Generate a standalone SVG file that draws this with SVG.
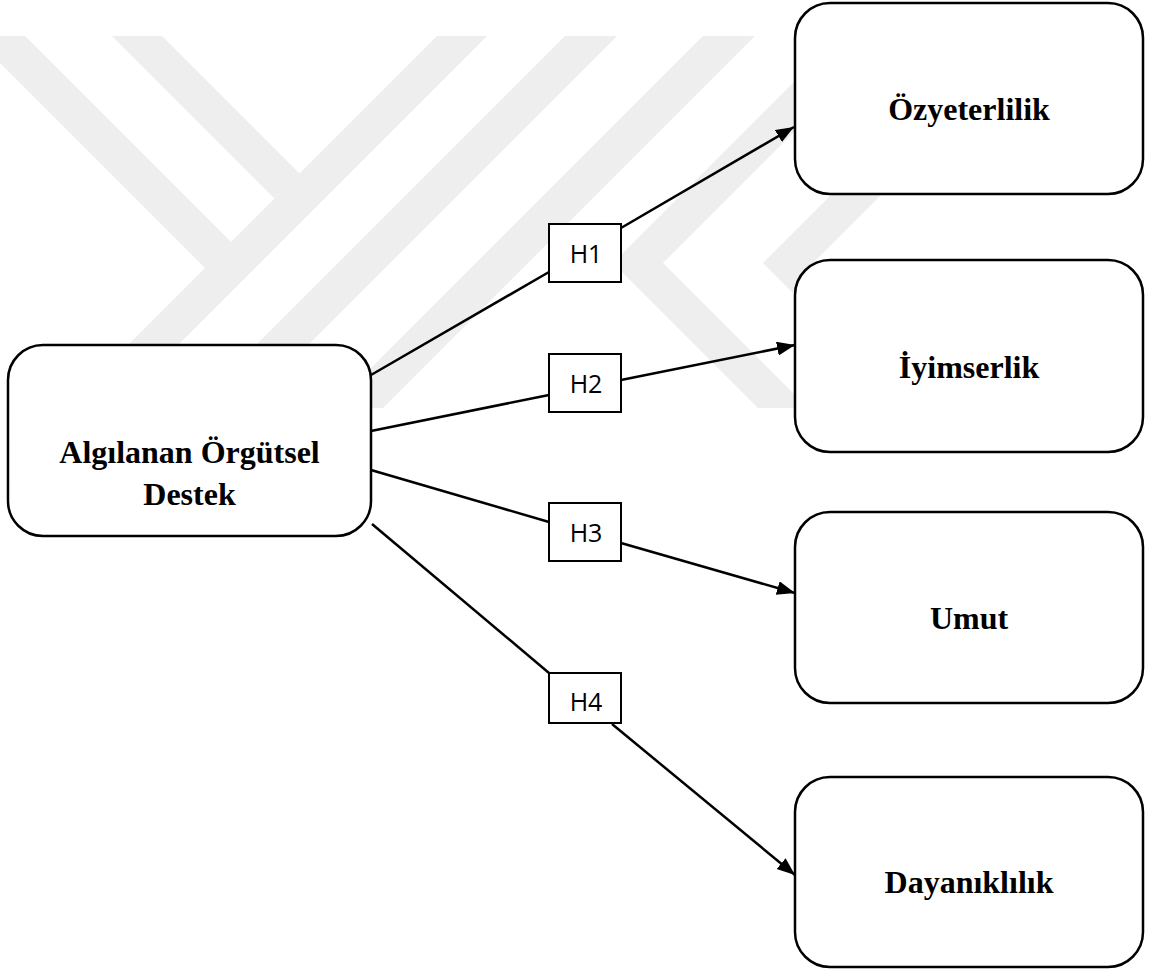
<svg xmlns="http://www.w3.org/2000/svg" width="1158" height="969" viewBox="0 0 1158 969">
  <style>
    .node { fill: #ffffff; stroke: #000000; stroke-width: 2.5; }
    .hbox { fill: #ffffff; stroke: #000000; stroke-width: 2; }
    .label { font-family: "Liberation Serif", "Times New Roman", serif; font-weight: bold; font-size: 32px; fill: #000000; text-anchor: middle; }
    .hlabel { font-family: "Open Sans", "Liberation Sans", sans-serif; font-size: 25px; fill: #000000; text-anchor: middle; }
    .edge { fill: none; stroke: #000000; stroke-width: 2.5; }
    .wm { fill: #eeeeee; }
  </style>
  <defs>
    <marker id="arrow" markerUnits="userSpaceOnUse" markerWidth="20" markerHeight="16" refX="18" refY="7" orient="auto">
      <path d="M0,0 L18,7 L0,14 Z" fill="#000000"/>
    </marker>
    <clipPath id="wmclip">
      <rect x="0" y="36" width="1158" height="372"/>
    </clipPath>
  </defs>
  <rect x="0" y="0" width="1158" height="969" fill="#ffffff"/>

  <g id="watermark" clip-path="url(#wmclip)">
    <polygon class="wm" points="-27,36 25,36 231,242 205,268"/>
    <polygon class="wm" points="112,36 162,36 299.5,173.5 274.5,198.5"/>
    <polygon class="wm" points="437,36 487,36 115,408 65,408"/>
    <polygon class="wm" points="565,36 617,36 245,408 193,408"/>
    <polygon class="wm" points="703,36 755,36 383,408 331,408"/>
    <polygon class="wm" points="840,36 890,36 663,263 808,408 758,408 613,263"/>
    <polygon class="wm" points="990,36 1040,36 813,263 958,408 908,408 763,263"/>
  </g>

  <g id="connectors">
    <line class="edge" x1="371" y1="375" x2="549" y2="272"/>
    <line class="edge" x1="621" y1="228" x2="794" y2="127" marker-end="url(#arrow)"/>
    <line class="edge" x1="371" y1="431" x2="549" y2="395"/>
    <line class="edge" x1="621" y1="380" x2="795" y2="345" marker-end="url(#arrow)"/>
    <line class="edge" x1="371" y1="470" x2="549" y2="522"/>
    <line class="edge" x1="621" y1="543" x2="795" y2="593" marker-end="url(#arrow)"/>
    <line class="edge" x1="372" y1="524" x2="549" y2="673"/>
    <line class="edge" x1="612" y1="724" x2="795" y2="875" marker-end="url(#arrow)"/>
  </g>

  <g id="node-destek">
    <rect class="node" x="8" y="345" width="363" height="191" rx="35" ry="35"/>
    <text class="label" x="189.5" y="463">Algılanan Örgütsel</text>
    <text class="label" x="189.5" y="505">Destek</text>
  </g>
  <g id="node-ozyeterlilik">
    <rect class="node" x="795" y="3" width="348" height="191" rx="35" ry="35"/>
    <text class="label" x="969" y="120">Özyeterlilik</text>
  </g>
  <g id="node-iyimserlik">
    <rect class="node" x="795" y="260" width="348" height="192" rx="35" ry="35"/>
    <text class="label" x="969" y="378">İyimserlik</text>
  </g>
  <g id="node-umut">
    <rect class="node" x="795" y="512" width="348" height="191" rx="35" ry="35"/>
    <text class="label" x="969" y="629">Umut</text>
  </g>
  <g id="node-dayaniklilik">
    <rect class="node" x="795" y="777" width="348" height="190" rx="35" ry="35"/>
    <text class="label" x="969" y="893">Dayanıklılık</text>
  </g>

  <g id="node-h1">
    <rect class="hbox" x="549" y="224" width="72" height="58"/>
    <text class="hlabel" x="586" y="263">H1</text>
  </g>
  <g id="node-h2">
    <rect class="hbox" x="549" y="354" width="72" height="58"/>
    <text class="hlabel" x="586" y="393">H2</text>
  </g>
  <g id="node-h3">
    <rect class="hbox" x="549" y="503" width="72" height="58"/>
    <text class="hlabel" x="586" y="542">H3</text>
  </g>
  <g id="node-h4">
    <rect class="hbox" x="549" y="673" width="72" height="50"/>
    <text class="hlabel" x="586" y="711">H4</text>
  </g>
</svg>
